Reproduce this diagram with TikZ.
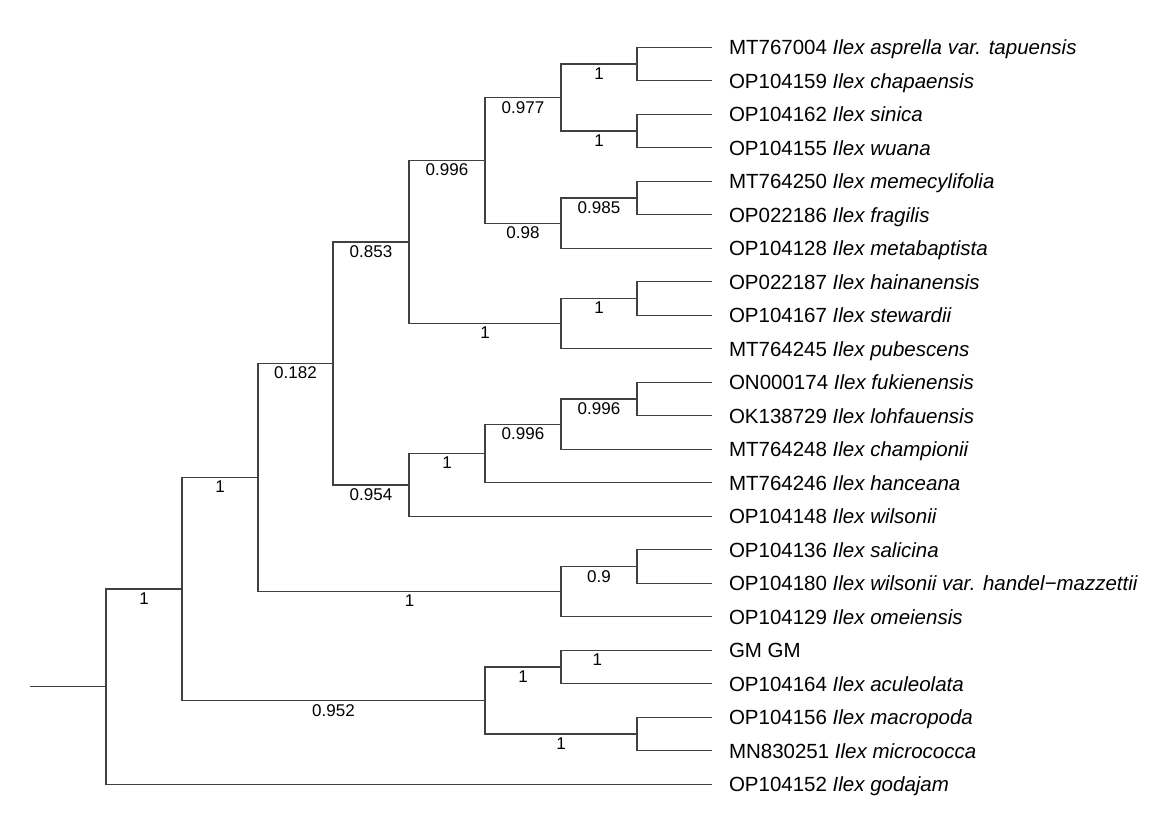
\documentclass[tikz,border=0pt]{standalone}
\usepackage{fontspec}
\setmainfont{Liberation Sans}
\usepackage{tikz}
\usetikzlibrary{positioning,calc}

\begin{document}
\begin{tikzpicture}[
    x=0.5pt, y=-0.5pt,
    branch/.style={line width=0.6pt, draw=black!75},
    tip/.style={anchor=west, inner xsep=8.3pt, inner ysep=0pt, text height=7.3pt, text depth=0pt, font=\fontsize{10.25}{12}\selectfont},
    support/.style={pos=0.75, anchor=north, inner sep=0pt, yshift=-1.5pt, font=\fontsize{8.5}{10}\selectfont}
]
    \useasboundingbox (0,0) rectangle (1176,833);

    \node[tip] (t1) at (712,47.3) {MT767004 \textit{Ilex asprella var. tapuensis}};
    \node[tip] (t2) at (712,80.8) {OP104159 \textit{Ilex chapaensis}};
    \node[tip] (t3) at (712,114.3) {OP104162 \textit{Ilex sinica}};
    \node[tip] (t4) at (712,147.8) {OP104155 \textit{Ilex wuana}};
    \node[tip] (t5) at (712,181.3) {MT764250 \textit{Ilex memecylifolia}};
    \node[tip] (t6) at (712,214.8) {OP022186 \textit{Ilex fragilis}};
    \node[tip] (t7) at (712,248.3) {OP104128 \textit{Ilex metabaptista}};
    \node[tip] (t8) at (712,281.8) {OP022187 \textit{Ilex hainanensis}};
    \node[tip] (t9) at (712,315.3) {OP104167 \textit{Ilex stewardii}};
    \node[tip] (t10) at (712,348.8) {MT764245 \textit{Ilex pubescens}};
    \node[tip] (t11) at (712,382.3) {ON000174 \textit{Ilex fukienensis}};
    \node[tip] (t12) at (712,415.8) {OK138729 \textit{Ilex lohfauensis}};
    \node[tip] (t13) at (712,449.3) {MT764248 \textit{Ilex championii}};
    \node[tip] (t14) at (712,482.8) {MT764246 \textit{Ilex hanceana}};
    \node[tip] (t15) at (712,516.3) {OP104148 \textit{Ilex wilsonii}};
    \node[tip] (t16) at (712,549.8) {OP104136 \textit{Ilex salicina}};
    \node[tip] (t17) at (712,583.3) {OP104180 \textit{Ilex wilsonii var. handel−mazzettii}};
    \node[tip] (t18) at (712,616.8) {OP104129 \textit{Ilex omeiensis}};
    \node[tip] (t19) at (712,650.3) {GM GM};
    \node[tip] (t20) at (712,683.8) {OP104164 \textit{Ilex aculeolata}};
    \node[tip] (t21) at (712,717.3) {OP104156 \textit{Ilex macropoda}};
    \node[tip] (t22) at (712,750.8) {MN830251 \textit{Ilex micrococca}};
    \node[tip] (t23) at (712,784.3) {OP104152 \textit{Ilex godajam}};

    \coordinate (a1) at (637,64.05);
    \coordinate (a2) at (637,131.05);
    \coordinate (a3) at (561,97.55);
    \coordinate (b1) at (637,198.05);
    \coordinate (b2) at (561,223.18);
    \coordinate (c) at (485,160.36);
    \coordinate (d1) at (637,298.55);
    \coordinate (d2) at (561,323.68);
    \coordinate (e) at (409,242.02);
    \coordinate (f1) at (637,399.05);
    \coordinate (f2) at (561,424.18);
    \coordinate (f3) at (485,453.49);
    \coordinate (f4) at (409,484.9);
    \coordinate (g) at (333,363.46);
    \coordinate (h1) at (637,566.55);
    \coordinate (h2) at (561,591.68);
    \coordinate (i) at (258,477.57);
    \coordinate (j1) at (561,667.05);
    \coordinate (j2) at (637,734.05);
    \coordinate (j3) at (485,700.55);
    \coordinate (k) at (182,589.06);
    \coordinate (root) at (106,686.68);
    \coordinate (stem) at (30,686.68);

    \draw[branch] (a1) |- (t1.west);
    \draw[branch] (a1) |- (t2.west);
    \draw[branch] (a2) |- (t3.west);
    \draw[branch] (a2) |- (t4.west);
    \draw[branch] (a3) |- node[support] {1} (a1);
    \draw[branch] (a3) |- node[support] {1} (a2);
    \draw[branch] (b1) |- (t5.west);
    \draw[branch] (b1) |- (t6.west);
    \draw[branch] (b2) |- node[support] {0.985} (b1);
    \draw[branch] (b2) |- (t7.west);
    \draw[branch] (c) |- node[support] {0.977} (a3);
    \draw[branch] (c) |- node[support] {0.98} (b2);
    \draw[branch] (d1) |- (t8.west);
    \draw[branch] (d1) |- (t9.west);
    \draw[branch] (d2) |- node[support] {1} (d1);
    \draw[branch] (d2) |- (t10.west);
    \draw[branch] (e) |- node[support] {0.996} (c);
    \draw[branch] (e) |- node[support] {1} (d2);
    \draw[branch] (f1) |- (t11.west);
    \draw[branch] (f1) |- (t12.west);
    \draw[branch] (f2) |- node[support] {0.996} (f1);
    \draw[branch] (f2) |- (t13.west);
    \draw[branch] (f3) |- node[support] {0.996} (f2);
    \draw[branch] (f3) |- (t14.west);
    \draw[branch] (f4) |- node[support] {1} (f3);
    \draw[branch] (f4) |- (t15.west);
    \draw[branch] (g) |- node[support] {0.853} (e);
    \draw[branch] (g) |- node[support] {0.954} (f4);
    \draw[branch] (h1) |- (t16.west);
    \draw[branch] (h1) |- (t17.west);
    \draw[branch] (h2) |- node[support] {0.9} (h1);
    \draw[branch] (h2) |- (t18.west);
    \draw[branch] (i) |- node[support] {0.182} (g);
    \draw[branch] (i) |- node[support] {1} (h2);
    \draw[branch] (j1) |- node[support, pos=0.62] {1} (t19.west);
    \draw[branch] (j1) |- (t20.west);
    \draw[branch] (j2) |- (t21.west);
    \draw[branch] (j2) |- (t22.west);
    \draw[branch] (j3) |- node[support] {1} (j1);
    \draw[branch] (j3) |- node[support] {1} (j2);
    \draw[branch] (k) |- node[support] {1} (i);
    \draw[branch] (k) |- node[support] {0.952} (j3);
    \draw[branch] (root) |- node[support] {1} (k);
    \draw[branch] (root) |- (t23.west);
    \draw[branch] (stem) -- (root);
\end{tikzpicture}
\end{document}
